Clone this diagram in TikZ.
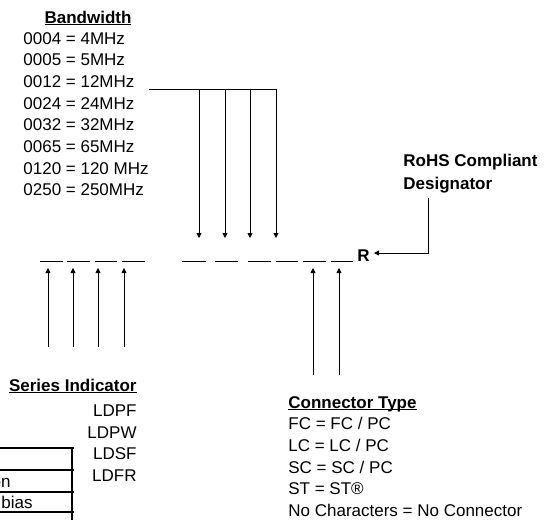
\documentclass[tikz,border=0pt]{standalone}
\usepackage{fontspec}
\setmainfont{Liberation Sans}
\usetikzlibrary{arrows.meta}
\usetikzlibrary{positioning}
\tikzset{ptr/.style = {-{Triangle[length=5pt, width=5pt]}}}
\tikzset{txt/.style = {inner sep = 0, font = \fontsize{17}{21}\selectfont}}
\tikzset{hdr/.style = {inner sep = 0, font = \fontsize{17}{21}\selectfont\bfseries}}
\tikzset{slot/.style = {line width = 0.8pt}}
\tikzset{grid line/.style = {line width = 1.3pt}}
\newcommand{\headline}[1]{\underline{\smash{#1}}}

\begin{document}
\begin{tikzpicture}[x=1pt, y=-1pt, line width=0.8pt]
    \useasboundingbox (0, 0) rectangle (548, 520);

    % bandwidth list
    \node (bwhead) [hdr, anchor=base] at (88, 23) {\headline{Bandwidth}};
    \node (bw1) [txt, anchor=base west] at (23, 44) {0004 = 4MHz};
    \node (bw2) [txt, anchor=base west] at (23, 65.7) {0005 = 5MHz};
    \node (bw3) [txt, anchor=base west] at (23, 87.4) {0012 = 12MHz};
    \node (bw4) [txt, anchor=base west] at (23, 109.1) {0024 = 24MHz};
    \node (bw5) [txt, anchor=base west] at (23, 130.8) {0032 = 32MHz};
    \node (bw6) [txt, anchor=base west] at (23, 152.5) {0065 = 65MHz};
    \node (bw7) [txt, anchor=base west] at (23, 174.2) {0120 = 120 MHz};
    \node (bw8) [txt, anchor=base west] at (23, 195.9) {0250 = 250MHz};

    \coordinate (bwline) at (149, 89);
    \coordinate (bd1) at (199, 238);
    \coordinate (bd2) at (225, 238);
    \coordinate (bd3) at (250, 238);
    \coordinate (bd4) at (276, 238);
    \draw (bwline) -- (bd4 |- bwline);
    \draw [ptr] (bd1 |- bwline) -- (bd1);
    \draw [ptr] (bd2 |- bwline) -- (bd2);
    \draw [ptr] (bd3 |- bwline) -- (bd3);
    \draw [ptr] (bd4 |- bwline) -- (bd4);

    % part number slots
    \draw [slot] (40, 261) -- (63, 261);
    \draw [slot] (67, 261) -- (90, 261);
    \draw [slot] (95, 261) -- (117, 261);
    \draw [slot] (122, 261) -- (145, 261);
    \draw [slot] (182, 261) -- (206, 261);
    \draw [slot] (215, 261) -- (238, 261);
    \draw [slot] (248, 261) -- (271, 261);
    \draw [slot] (276, 261) -- (298, 261);
    \draw [slot] (303, 261) -- (326, 261);
    \draw [slot] (331, 261) -- (353, 261);
    \node (rr) [hdr, anchor=base west] at (357, 261) {R};

    % rohs designator
    \node (rohs1) [hdr, anchor=base west] at (403, 166) {RoHS Compliant};
    \node (rohs2) [hdr, anchor=base west] at (403, 189) {Designator};
    \coordinate (rtop) at (428, 198);
    \coordinate (rcorner) at (428, 253);
    \coordinate (rtip) at (374, 253);
    \draw [ptr] (rtop) -- (rcorner) -- (rtip);

    % series indicator
    \coordinate (sbase) at (0, 347);
    \coordinate (su1) at (48, 268);
    \coordinate (su2) at (73, 268);
    \coordinate (su3) at (98, 268);
    \coordinate (su4) at (124, 268);
    \draw [ptr] (su1 |- sbase) -- (su1);
    \draw [ptr] (su2 |- sbase) -- (su2);
    \draw [ptr] (su3 |- sbase) -- (su3);
    \draw [ptr] (su4 |- sbase) -- (su4);

    \node (sihead) [hdr, anchor=base east] at (137, 391) {\headline{Series Indicator}};
    \node (si1) [txt, anchor=base east] at (137, 416) {LDPF};
    \node (si2) [txt, anchor=base east] at (137, 438) {LDPW};
    \node (si3) [txt, anchor=base east] at (137, 459) {LDSF};
    \node (si4) [txt, anchor=base east] at (137, 481) {LDFR};

    % connector type
    \coordinate (cbase) at (0, 375);
    \coordinate (cu1) at (313, 268);
    \coordinate (cu2) at (339, 268);
    \draw [ptr] (cu1 |- cbase) -- (cu1);
    \draw [ptr] (cu2 |- cbase) -- (cu2);

    \node (cthead) [hdr, anchor=base west] at (288, 408) {\headline{Connector Type}};
    \node (ct1) [txt, anchor=base west] at (288, 429) {FC = FC / PC};
    \node (ct2) [txt, anchor=base west] at (288, 451) {LC = LC / PC};
    \node (ct3) [txt, anchor=base west] at (288, 473) {SC = SC / PC};
    \node (ct4) [txt, anchor=base west] at (288, 494) {ST = ST®};
    \node (ct5) [txt, anchor=base west] at (288, 516) {No Characters = No Connector};

    % option table, cut at the page edge
    \draw [grid line] (0, 448) -- (74, 448);
    \draw [grid line] (0, 470) -- (74, 470);
    \draw [grid line] (0, 492) -- (74, 492);
    \draw [grid line] (0, 512) -- (74, 512);
    \draw [grid line] (72, 448) -- (72, 520);
    \node (opt2) [txt, anchor=base east] at (11, 487) {on};
    \node (opt3) [txt, anchor=base east] at (33, 508) {bias};
\end{tikzpicture}
\end{document}
